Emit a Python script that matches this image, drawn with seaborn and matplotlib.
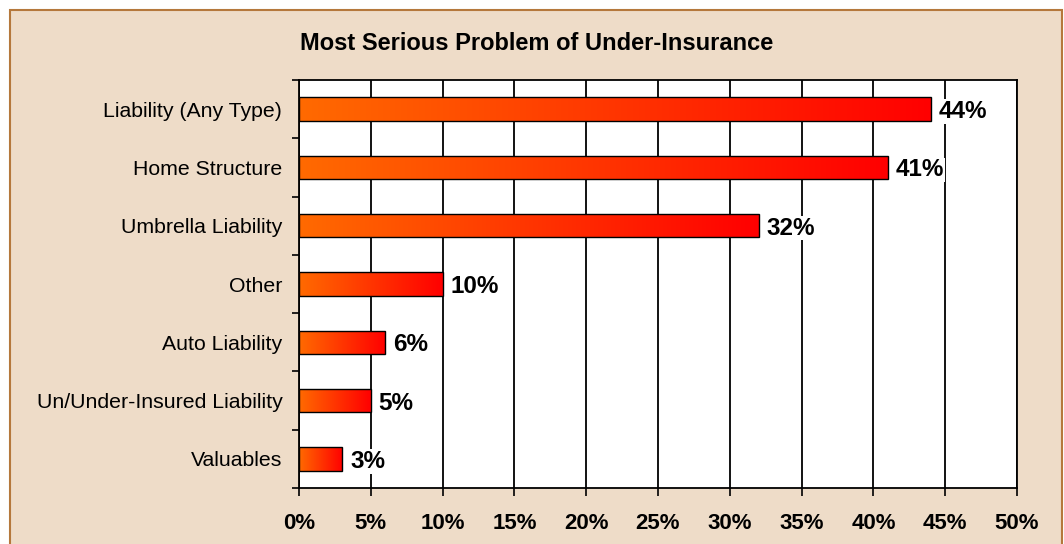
import matplotlib
matplotlib.use("Agg")
import matplotlib.pyplot as plt
import seaborn as sns
import numpy as np
import pandas as pd
from matplotlib.patches import Rectangle
from matplotlib.colors import LinearSegmentedColormap

categories = ["Liability (Any Type)", "Home Structure", "Umbrella Liability", "Other",
              "Auto Liability", "Un/Under-Insured Liability", "Valuables"]
values = [44, 41, 32, 10, 6, 5, 3]
xticks = [0, 5, 10, 15, 20, 25, 30, 35, 40, 45, 50]
title = "Most Serious Problem of Under-Insurance"

sns.set_theme(style="white")
plt.rcParams['font.family'] = ['Liberation Sans', 'DejaVu Sans']
plt.rcParams['text.color'] = 'black'
plt.rcParams['xtick.color'] = 'black'
plt.rcParams['ytick.color'] = 'black'
plt.rcParams['axes.labelcolor'] = 'black'

bg = "#EEDCC8"
fig = plt.figure(figsize=(10.64, 5.44), dpi=100)
fig.patch.set_facecolor("white")
fig.patches.append(Rectangle((10/1064, -0.05), 1052/1064, 1 - 10/544 + 0.05,
                             transform=fig.transFigure, facecolor=bg,
                             edgecolor="#B5783C", linewidth=1.5, zorder=-10))

ax = fig.add_axes([299/1064, 1 - 488/544, (1017 - 299)/1064, (488 - 80)/544])
ax.set_zorder(5)
df = pd.DataFrame({"cat": categories, "val": values})
sns.barplot(data=df, y="cat", x="val", orient="h", ax=ax, width=0.4,
            color="#FF3300", edgecolor="black", linewidth=1.0, zorder=3)

cmap = LinearSegmentedColormap.from_list("g", ["#FF6A00", "#FF0000"])
grad = np.linspace(0, 1, 256).reshape(1, -1)
for p in ax.patches:
    x0, y0 = p.get_x(), p.get_y()
    w, h = p.get_width(), p.get_height()
    im = ax.imshow(grad, cmap=cmap, aspect="auto", extent=(x0, x0 + w, y0 + h, y0),
                   zorder=3.5)
    im.set_clip_path(p)
    p.set_facecolor("none")
    p.set_zorder(4)

ax.set_xlim(0, 50)
ax.set_ylim(len(categories) - 0.5, -0.5)
ax.set_xticks(xticks)
ax.set_xticklabels([f"{t}%" for t in xticks], fontsize=16, fontweight="bold")
ax.set_yticks(range(len(categories)))
ax.set_yticklabels(categories, fontsize=15.3)
ax.set_yticks(np.arange(-0.5, len(categories), 1), minor=True)
ax.tick_params(axis="y", which="major", left=True, length=0, pad=12)
ax.tick_params(axis="y", which="minor", left=True, length=5, width=1.2, color="black",
               direction="out")
ax.tick_params(axis="x", which="major", bottom=True, length=6, width=1.2, color="black",
               direction="out", pad=12)
ax.xaxis.grid(True, color="black", linewidth=1.3, zorder=0)
ax.set_axisbelow(True)
ax.set_facecolor("white")
for s in ax.spines.values():
    s.set_visible(True)
    s.set_color("black")
    s.set_linewidth(1.3)
ax.set_xlabel("")
ax.set_ylabel("")

for i, v in enumerate(values):
    ax.text(v + 0.55, i, f"{v}%", va="center_baseline", ha="left", fontsize=17.5,
            fontweight="bold", color="black", zorder=6,
            bbox=dict(facecolor="white", edgecolor="none", pad=0.5))

fig.text(537/1064, 1 - 44/544, title, ha="center", va="center", fontsize=17,
         fontweight="bold", color="black")

fig.savefig("out.png", dpi=100, facecolor=fig.get_facecolor())
